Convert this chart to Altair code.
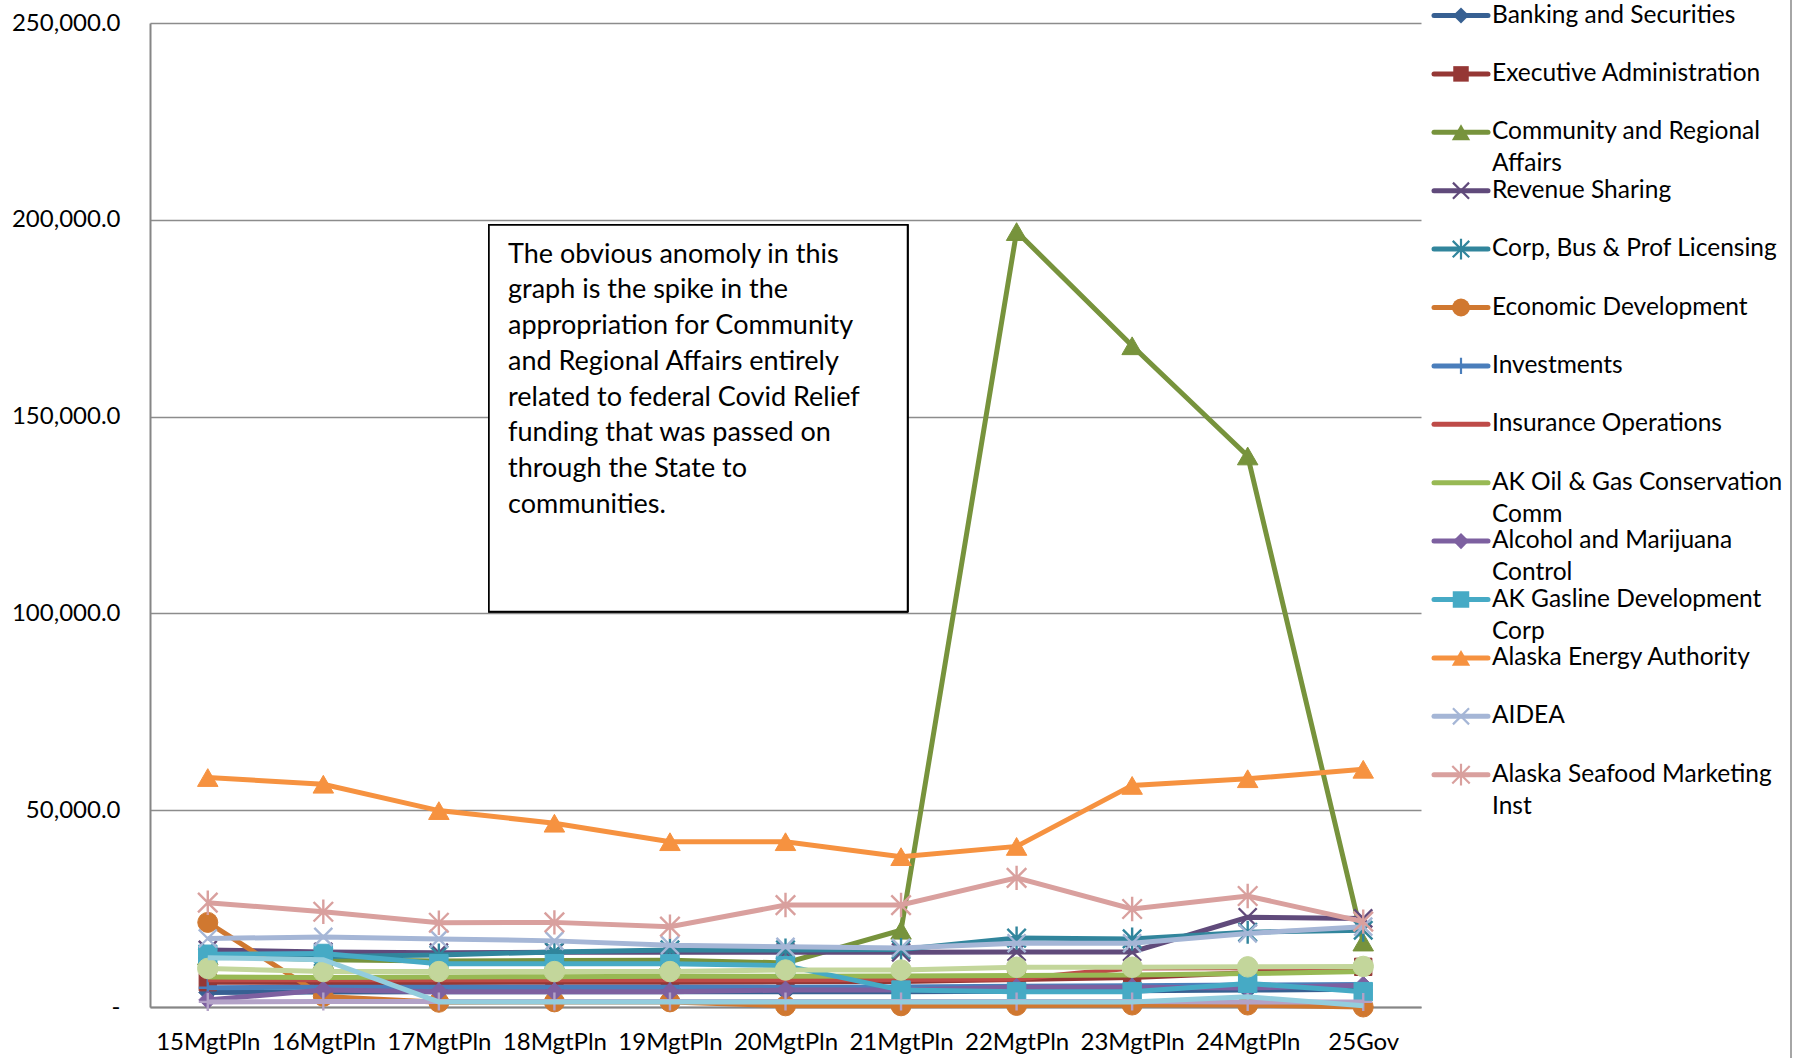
import altair as alt
import pandas as pd

# Budget periods along the x axis
periods = ["15MgtPln", "16MgtPln", "17MgtPln", "18MgtPln", "19MgtPln", "20MgtPln",
           "21MgtPln", "22MgtPln", "23MgtPln", "24MgtPln", "25Gov"]

# Appropriations by component ($ thousands)
banking = [3700, 3800, 3900, 3900, 3900, 3900, 3900, 4000, 4100, 4300, 4500]
exec_admin = [6300, 6200, 6200, 6300, 6300, 6400, 6500, 7000, 7500, 8700, 10200]
community = [13000, 12000, 11700, 11800, 11900, 11200, 19500, 197000, 168000, 140000, 16500]
revenue_sharing = [14500, 14000, 13800, 13900, 13900, 13900, 13900, 14000, 14000, 22800, 22500]
corp_bus = [12500, 12800, 13200, 14000, 14500, 14500, 14600, 17500, 17300, 19000, 19500]
econ_dev = [21500, 2700, 1200, 1300, 1300, 300, 300, 400, 500, 500, 0]
investments = [4900, 5000, 5000, 5000, 5000, 5000, 5100, 5300, 5400, 5600, 5700]
insurance = [6900, 6900, 6900, 6900, 6900, 6900, 7000, 7100, 9900, 10000, 10000]
aogcc = [7600, 7500, 7600, 7700, 7800, 7800, 7900, 8000, 8100, 8500, 9000]
amco = [1800, 4300, 3900, 3900, 3900, 4300, 4300, 5000, 5000, 4800, 5500]
agdc = [13400, 13600, 11000, 11000, 11000, 10500, 4300, 3900, 3900, 6000, 3900]
aea = [58300, 56600, 49900, 46700, 42000, 42000, 38200, 40800, 56300, 58000, 60400]
aidea = [17400, 17800, 17300, 16800, 15700, 15300, 15000, 16200, 16200, 18700, 20400]
asmi = [26500, 24200, 21400, 21500, 20400, 25900, 25900, 32800, 24900, 28200, 21700]
rca = [9800, 9000, 9000, 9000, 9000, 9400, 9400, 10100, 10100, 10200, 10300]
facilities = [1300, 1400, 1400, 1400, 1400, 1400, 1400, 1400, 1400, 1300, 1300]
aerospace = [12500, 12000, 1300, 1300, 1300, 1300, 1300, 1300, 1300, 2600, 300]

series_names = [
    "Banking and Securities", "Executive Administration", "Community and Regional Affairs",
    "Revenue Sharing", "Corp, Bus & Prof Licensing", "Economic Development", "Investments",
    "Insurance Operations", "AK Oil & Gas Conservation Comm", "Alcohol and Marijuana Control",
    "AK Gasline Development Corp", "Alaska Energy Authority", "AIDEA",
    "Alaska Seafood Marketing Inst", "Regulatory Commission of Alaska",
    "DCCED State Facilities Rent", "Alaska Aerospace Corp",
]
series_values = [banking, exec_admin, community, revenue_sharing, corp_bus, econ_dev,
                 investments, insurance, aogcc, amco, agdc, aea, aidea, asmi, rca,
                 facilities, aerospace]
series_colors = ["#376092", "#953735", "#77933C", "#604A7B", "#31859C", "#D07830",
                 "#4A7EBB", "#BE4B48", "#98B954", "#7D60A0", "#46AAC5", "#F69240",
                 "#A5B6D6", "#D9A09E", "#C3D69B", "#B3A2C7", "#93CDDD"]

# marker styles: (shape, size, filled)
X_PATH = "M-1,-1L1,1M-1,1L1,-1"
STAR_PATH = "M-1,-1L1,1M-1,1L1,-1M0,-1.25L0,1.25"
PLUS_PATH = "M-1,0L1,0M0,-1L0,1"
series_markers = [
    ("diamond", 324, True), ("square", 300, True), ("triangle-up", 420, True),
    (X_PATH, 324, False), (STAR_PATH, 340, False), ("circle", 400, True),
    (PLUS_PATH, 324, False), None, None, ("diamond", 324, True), ("square", 340, True),
    ("triangle-up", 420, True), (X_PATH, 324, False), (STAR_PATH, 380, False),
    ("circle", 420, True), (PLUS_PATH, 324, False), None,
]

# Wrapped legend labels (first 14 series appear in the legend)
legend_labels = [
    ["Banking and Securities"], ["Executive Administration"],
    ["Community and Regional", "Affairs"], ["Revenue Sharing"],
    ["Corp, Bus & Prof Licensing"], ["Economic Development"], ["Investments"],
    ["Insurance Operations"], ["AK Oil & Gas Conservation", "Comm"],
    ["Alcohol and Marijuana", "Control"], ["AK Gasline Development", "Corp"],
    ["Alaska Energy Authority"], ["AIDEA"], ["Alaska Seafood Marketing", "Inst"],
]

note_lines = [
    "The obvious anomoly in this",
    "graph is the spike in the",
    "appropriation for Community",
    "and Regional Affairs entirely",
    "related to federal Covid Relief",
    "funding that was passed on",
    "through the State to",
    "communities.",
]

FONT = "Lato"
W, H = 1271, 984
PAD = {"left": 150, "top": 23, "right": 1799 - 150 - W, "bottom": 1058 - 23 - H}

rows = []
for name, vals in zip(series_names, series_values):
    for p, v in zip(periods, vals):
        rows.append({"series": name, "period": p, "value": v})
df = pd.DataFrame(rows)

x_enc = alt.X(
    "period:N", sort=periods, title=None,
    scale=alt.Scale(type="point", padding=0.5),
    axis=alt.Axis(labelAngle=0, ticks=False, grid=False, domainColor="#868686",
                  domainWidth=2, labelFont=FONT, labelFontSize=24, labelColor="#000000",
                  labelPadding=23),
)
y_enc = alt.Y(
    "value:Q", title=None,
    scale=alt.Scale(domain=[0, 250000], nice=False, zero=True),
    axis=alt.Axis(values=[0, 50000, 100000, 150000, 200000, 250000], ticks=False,
                  grid=True, gridColor="#8C8C8C", gridWidth=1.5,
                  domainColor="#868686", domainWidth=2,
                  labelExpr="datum.value == 0 ? '-\u00a0\u00a0\u00a0\u00a0\u00a0\u00a0' : format(datum.value, ',.1f')",
                  labelFont=FONT, labelFontSize=24, labelColor="#000000", labelPadding=30),
)

base = alt.Chart(df)
data_layers = []
for name, color, marker in zip(series_names, series_colors, series_markers):
    sub = base.transform_filter(alt.datum.series == name)
    data_layers.append(sub.mark_line(color=color, strokeWidth=5).encode(x=x_enc, y=y_enc))
    if marker is not None:
        shape, size, filled = marker
        if filled:
            pt = sub.mark_point(shape=shape, size=size, filled=True, color=color,
                                opacity=1, stroke=color, strokeWidth=1)
        else:
            pt = sub.mark_point(shape=shape, size=size, filled=False, color=color,
                                opacity=1, strokeWidth=2.4)
        data_layers.append(pt.encode(x=x_enc, y=y_enc))

main = alt.layer(*data_layers)

# Legend built from the series list
ROW0, ROW_STEP, LINE_STEP = -7.5, 58.4, 32
SYM_X0, SYM_X1, SYM_XC, TXT_X = 1284, 1338, 1311, 1342
leg_rows, leg_text = [], []
for i, (name, color, labels) in enumerate(zip(series_names, series_colors, legend_labels)):
    ly = ROW0 + i * ROW_STEP
    leg_rows.append({"series": name, "ly": ly, "x0": SYM_X0, "x1": SYM_X1, "xc": SYM_XC})
    for j, t in enumerate(labels):
        leg_text.append({"txt": t, "ty": ly + j * LINE_STEP, "tx": TXT_X})
leg_df = pd.DataFrame(leg_rows)
leg_text_df = pd.DataFrame(leg_text)

legend_layers = []
for name, color, marker in zip(series_names[:14], series_colors, series_markers):
    sub = alt.Chart(leg_df).transform_filter(alt.datum.series == name)
    legend_layers.append(
        sub.mark_rule(color=color, strokeWidth=5, strokeCap="round").encode(
            x=alt.X("x0:Q", scale=None, axis=None),
            x2="x1:Q",
            y=alt.Y("ly:Q", scale=None, axis=None),
        )
    )
    if marker is not None:
        shape, size, filled = marker
        size = size * 0.8
        if filled:
            pt = sub.mark_point(shape=shape, size=size, filled=True, color=color, opacity=1)
        else:
            pt = sub.mark_point(shape=shape, size=size, filled=False, color=color,
                                opacity=1, strokeWidth=2.2)
        legend_layers.append(pt.encode(x=alt.X("xc:Q", scale=None, axis=None),
                                       y=alt.Y("ly:Q", scale=None, axis=None)))

legend_text = alt.Chart(leg_text_df).mark_text(
    align="left", baseline="middle", font=FONT, fontSize=24.5, color="#000000"
).encode(
    x=alt.X("tx:Q", scale=None, axis=None),
    y=alt.Y("ty:Q", scale=None, axis=None),
    text="txt:N",
)

# Annotation box
note_df = pd.DataFrame({"line": note_lines,
                        "ny": [239.7 + k * 35.7 for k in range(len(note_lines))],
                        "nx": [358] * len(note_lines)})
box = alt.Chart(note_df).mark_rect(fill="white", stroke="#000000", strokeWidth=1.5).encode(
    x=alt.value(339), x2=alt.value(757.5), y=alt.value(202), y2=alt.value(588.5)
)
note = alt.Chart(note_df).mark_text(
    align="left", baseline="alphabetic", font=FONT, fontSize=27, color="#000000"
).encode(
    x=alt.X("nx:Q", scale=None, axis=None),
    y=alt.Y("ny:Q", scale=None, axis=None),
    text="line:N",
)

frame = alt.Chart(note_df).mark_rule(color="#A6A6A6", strokeWidth=2).encode(
    x=alt.value(1641), y=alt.value(-23), y2=alt.value(H + PAD["bottom"])
)

chart = alt.layer(
    main, box, note, *legend_layers, legend_text, frame
).resolve_scale(
    x="independent", y="independent"
).properties(
    width=W, height=H, padding=PAD,
    autosize=alt.AutoSizeParams(type="none"),
    background="white",
).configure_view(stroke=None)

chart.save("out.html", embed_options={"renderer": "svg", "actions": False})
